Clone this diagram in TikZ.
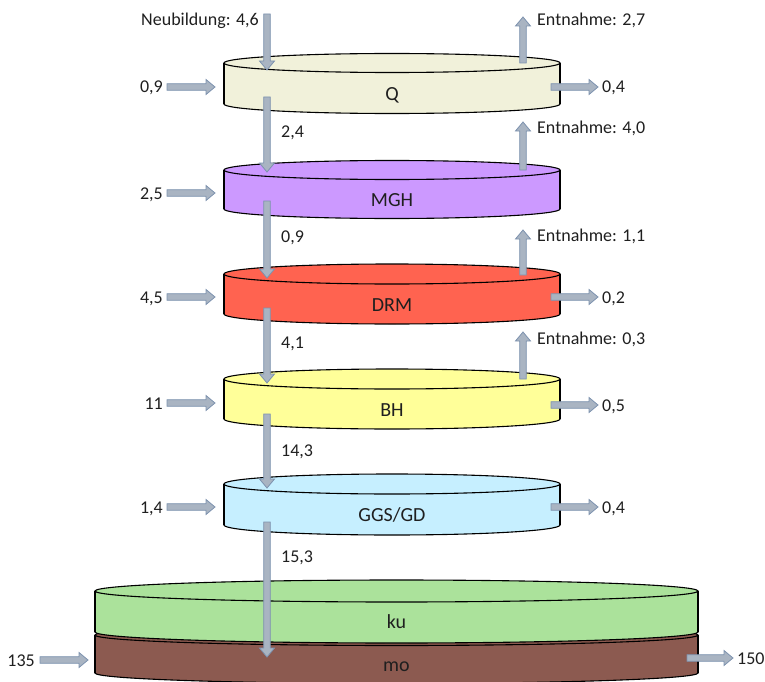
\documentclass[tikz,border=0pt]{standalone}
\usepackage{fontspec}
\setmainfont{Carlito}
\usetikzlibrary{calc}

\definecolor{flowfill}{HTML}{A9B4C2}
\definecolor{flowline}{HTML}{7D92AF}
\definecolor{cQ}{HTML}{F1F1DA}
\definecolor{cMGH}{HTML}{CC99FF}
\definecolor{cDRM}{HTML}{FF6350}
\definecolor{cBH}{HTML}{FFFF99}
\definecolor{cGGS}{HTML}{C6EFFF}
\definecolor{cKU}{HTML}{ABE29B}
\definecolor{cMO}{HTML}{8C5A50}

\tikzset{
  flowarrow/.style={fill=flowfill, draw=flowline, line width=0.8pt, line join=miter},
  diskedge/.style={draw=black, line width=1.1pt},
  lbl/.style={font=\fontsize{18}{21}\selectfont, inner sep=0pt, text=black!88},
  disklbl/.style={lbl, font=\fontsize{20}{24}\selectfont, anchor=base},
}

% block arrow from coordinate #1 to coordinate #2
\newcommand\flow[2]{%
  \coordinate (fbase) at ($(#2)!9pt!(#1)$);
  \filldraw[flowarrow]
    ($(#1)!3.3pt!90:(#2)$) -- ($(fbase)!3.3pt!90:(#2)$) --
    ($(fbase)!7.5pt!90:(#2)$) -- (#2) --
    ($(fbase)!7.5pt!-90:(#2)$) -- ($(fbase)!3.3pt!-90:(#2)$) --
    ($(#1)!3.3pt!-90:(#2)$) -- cycle;
}

% flat cylinder: name, cx, cy (top ellipse), rx, ry, height, colour, label
\newcommand\disk[8]{%
  \filldraw[diskedge, fill=#7] (#2,#3+#6) ellipse [x radius=#4pt, y radius=#5pt];
  \fill[#7] (#2-#4,#3) rectangle (#2+#4,#3+#6);
  \draw[diskedge] (#2-#4,#3) -- (#2-#4,#3+#6) (#2+#4,#3) -- (#2+#4,#3+#6);
  \filldraw[diskedge, fill=#7] (#2,#3) ellipse [x radius=#4pt, y radius=#5pt];
  \node[disklbl] (#1) at (#2,#3+#6/2+17) {#8};
}

\begin{document}
\begin{tikzpicture}[x=1pt, y=-1pt]
\useasboundingbox (0,0) rectangle (765,682);

% aquifer layers
\disk{Q}{392}{63}{168}{9.5}{41}{cQ}{Q}
\disk{MGH}{392}{170}{168}{9.5}{39}{cMGH}{MGH}
\disk{DRM}{392}{274}{168}{10}{40}{cDRM}{DRM}
\disk{BH}{392}{379}{168}{10}{40}{cBH}{BH}
\disk{GGS}{392}{484}{168}{10}{41}{cGGS}{GGS/GD}
\disk{mo}{396.5}{635}{301.5}{10.5}{38}{cMO}{mo}
\disk{ku}{396.5}{591}{301.5}{11}{41}{cKU}{ku}

% end points of the flows
\coordinate (nbA) at (267,14);   \coordinate (nbB) at (267,70);
\coordinate (d1A) at (267,97);   \coordinate (d1B) at (267,172);
\coordinate (d2A) at (267,201);  \coordinate (d2B) at (267,278);
\coordinate (d3A) at (267,308);  \coordinate (d3B) at (267,383);
\coordinate (d4A) at (267,414);  \coordinate (d4B) at (267,488);
\coordinate (d5A) at (267,522);  \coordinate (d5B) at (267,657);

\coordinate (u1A) at (523,63);   \coordinate (u1B) at (523,17);
\coordinate (u2A) at (523,170);  \coordinate (u2B) at (523,122);
\coordinate (u3A) at (523,275);  \coordinate (u3B) at (523,230);
\coordinate (u4A) at (523,379);  \coordinate (u4B) at (523,332);

\coordinate (l1A) at (167,87);   \coordinate (l1B) at (215,87);
\coordinate (l2A) at (167,193);  \coordinate (l2B) at (215,193);
\coordinate (l3A) at (167,297);  \coordinate (l3B) at (215,297);
\coordinate (l4A) at (167,403);  \coordinate (l4B) at (215,403);
\coordinate (l5A) at (167,507);  \coordinate (l5B) at (215,507);
\coordinate (l6A) at (40,660);   \coordinate (l6B) at (88,660);

\coordinate (r1A) at (551,87);   \coordinate (r1B) at (598,87);
\coordinate (r3A) at (551,297);  \coordinate (r3B) at (598,297);
\coordinate (r4A) at (551,405);  \coordinate (r4B) at (598,405);
\coordinate (r5A) at (551,507);  \coordinate (r5B) at (598,507);
\coordinate (r6A) at (687,658);  \coordinate (r6B) at (733,658);

% flows
\flow{nbA}{nbB}
\flow{d1A}{d1B} \flow{d2A}{d2B} \flow{d3A}{d3B} \flow{d4A}{d4B} \flow{d5A}{d5B}
\flow{u1A}{u1B} \flow{u2A}{u2B} \flow{u3A}{u3B} \flow{u4A}{u4B}
\flow{l1A}{l1B} \flow{l2A}{l2B} \flow{l3A}{l3B} \flow{l4A}{l4B} \flow{l5A}{l5B} \flow{l6A}{l6B}
\flow{r1A}{r1B} \flow{r3A}{r3B} \flow{r4A}{r4B} \flow{r5A}{r5B} \flow{r6A}{r6B}

% flow values
\node[lbl, anchor=base east] (tnb) at (259,26) {Neubildung: 4,6};
\node[lbl, anchor=base west] (te1) at (537,26) {Entnahme: 2,7};
\node[lbl, anchor=base west] (te2) at (537,134) {Entnahme: 4,0};
\node[lbl, anchor=base west] (te3) at (537,241) {Entnahme: 1,1};
\node[lbl, anchor=base west] (te4) at (537,344) {Entnahme: 0,3};

\node[lbl, anchor=base west] (td1) at (281,138) {2,4};
\node[lbl, anchor=base west] (td2) at (281,242) {0,9};
\node[lbl, anchor=base west] (td3) at (281,348) {4,1};
\node[lbl, anchor=base west] (td4) at (281,456) {14,3};
\node[lbl, anchor=base west] (td5) at (281,562) {15,3};

\node[lbl, anchor=base east] (tl1) at (163,93) {0,9};
\node[lbl, anchor=base east] (tl2) at (163,199) {2,5};
\node[lbl, anchor=base east] (tl3) at (163,303) {4,5};
\node[lbl, anchor=base east] (tl4) at (163,409) {11};
\node[lbl, anchor=base east] (tl5) at (163,513) {1,4};
\node[lbl, anchor=base east] (tl6) at (35,666) {135};

\node[lbl, anchor=base west] (tr1) at (602,93) {0,4};
\node[lbl, anchor=base west] (tr3) at (602,303) {0,2};
\node[lbl, anchor=base west] (tr4) at (602,411) {0,5};
\node[lbl, anchor=base west] (tr5) at (602,513) {0,4};
\node[lbl, anchor=base west] (tr6) at (737,664) {150};
\end{tikzpicture}
\end{document}
